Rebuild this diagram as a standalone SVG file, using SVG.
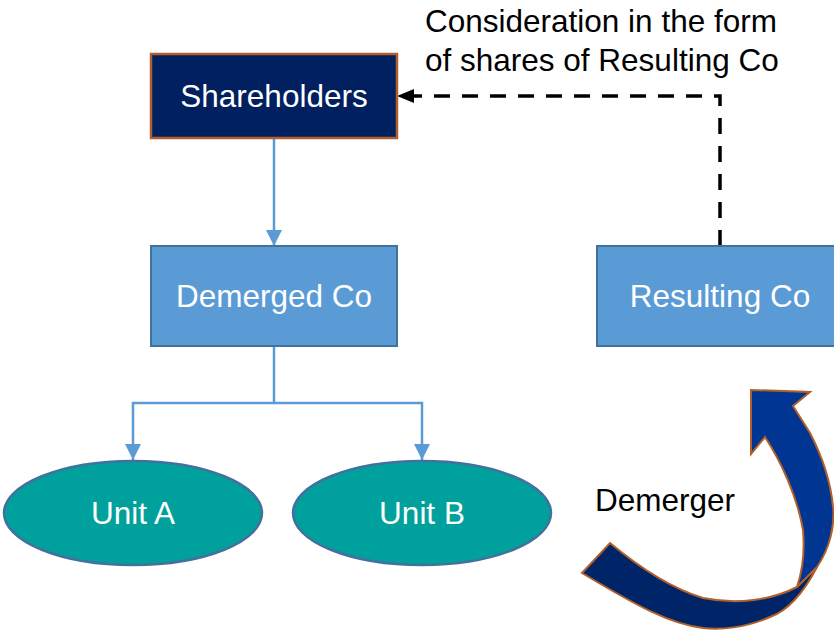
<svg xmlns="http://www.w3.org/2000/svg" width="834" height="633" viewBox="0 0 834 633">
<defs>
<style>
.lbl{font-family:"Liberation Sans",Arial,sans-serif;font-size:31.5px}
.w{fill:#FFFFFF}
.k{fill:#000000}
.box{fill:#5B9BD5;stroke:#41719C;stroke-width:2}
.unit{fill:#00A19C;stroke:#41719C;stroke-width:2.5}
.conn{stroke:#5B9BD5;stroke-width:2.5;fill:none}
.dash{stroke:#000;stroke-width:3.5;fill:none;stroke-dasharray:16 12}
</style>
<marker id="ab" viewBox="0 0 16 16" refX="16" refY="8" markerWidth="16" markerHeight="16" markerUnits="userSpaceOnUse" orient="auto">
<path d="M0,0 L16,8 L0,16 z" fill="#5B9BD5"/>
</marker>
<marker id="ak" viewBox="0 0 16 14" refX="16" refY="7" markerWidth="16" markerHeight="14" markerUnits="userSpaceOnUse" orient="auto">
<path d="M0,0 L16,7 L0,14 z" fill="#000"/>
</marker>
</defs>
<g id="connectors">
<path class="conn" d="M274,138 V246" marker-end="url(#ab)"/>
<path class="conn" d="M274,346 V403 H133 V460" marker-end="url(#ab)"/>
<path class="conn" d="M274,403 H422 V460" marker-end="url(#ab)"/>
<path class="dash" d="M720,246 V96 H413"/>
<path d="M397,96 L414,89 L414,103 z" fill="#000"/>
</g>
<g id="shareholders">
<rect x="151" y="54" width="246" height="84" fill="#002060" stroke="#B0602A" stroke-width="2.5"/>
<text class="lbl w" x="274" y="107" text-anchor="middle">Shareholders</text>
</g>
<g id="demerged">
<rect class="box" x="151" y="246" width="246" height="100"/>
<text class="lbl w" x="274" y="307" text-anchor="middle">Demerged Co</text>
</g>
<g id="resulting">
<rect class="box" x="597" y="246" width="246" height="100"/>
<text class="lbl w" x="720" y="307" text-anchor="middle">Resulting Co</text>
</g>
<g id="unitA">
<ellipse class="unit" cx="133" cy="513" rx="129" ry="52"/>
<text class="lbl w" x="133" y="524" text-anchor="middle">Unit A</text>
</g>
<g id="unitB">
<ellipse class="unit" cx="422" cy="513" rx="129" ry="52"/>
<text class="lbl w" x="422" y="524" text-anchor="middle">Unit B</text>
</g>
<g id="consideration">
<text class="lbl k" x="425" y="32">Consideration in the form</text>
<text class="lbl k" x="425" y="71">of shares of Resulting Co</text>
</g>
<g id="demerger-arrow">
<path d="M582,573 L610,543 C640,568 670,588 703,598 C737,605 772,600 797,587 L817,567 C805,590 790,610 770,617 C745,628 720,630 703,628 C670,624 637,606 582,573 Z" fill="#002468" stroke="#B0602A" stroke-width="2"/>
<path d="M797,587 L817,567 C830,548 835,525 833,507 C831,485 823,458 810,433 L793,406 L810,392 L751,390 L751,454 L765,437 C780,460 797,495 803,530 C805,552 802,572 797,587 Z" fill="#003591" stroke="#B0602A" stroke-width="2"/>
<text class="lbl k" x="595" y="511">Demerger</text>
</g>
</svg>
